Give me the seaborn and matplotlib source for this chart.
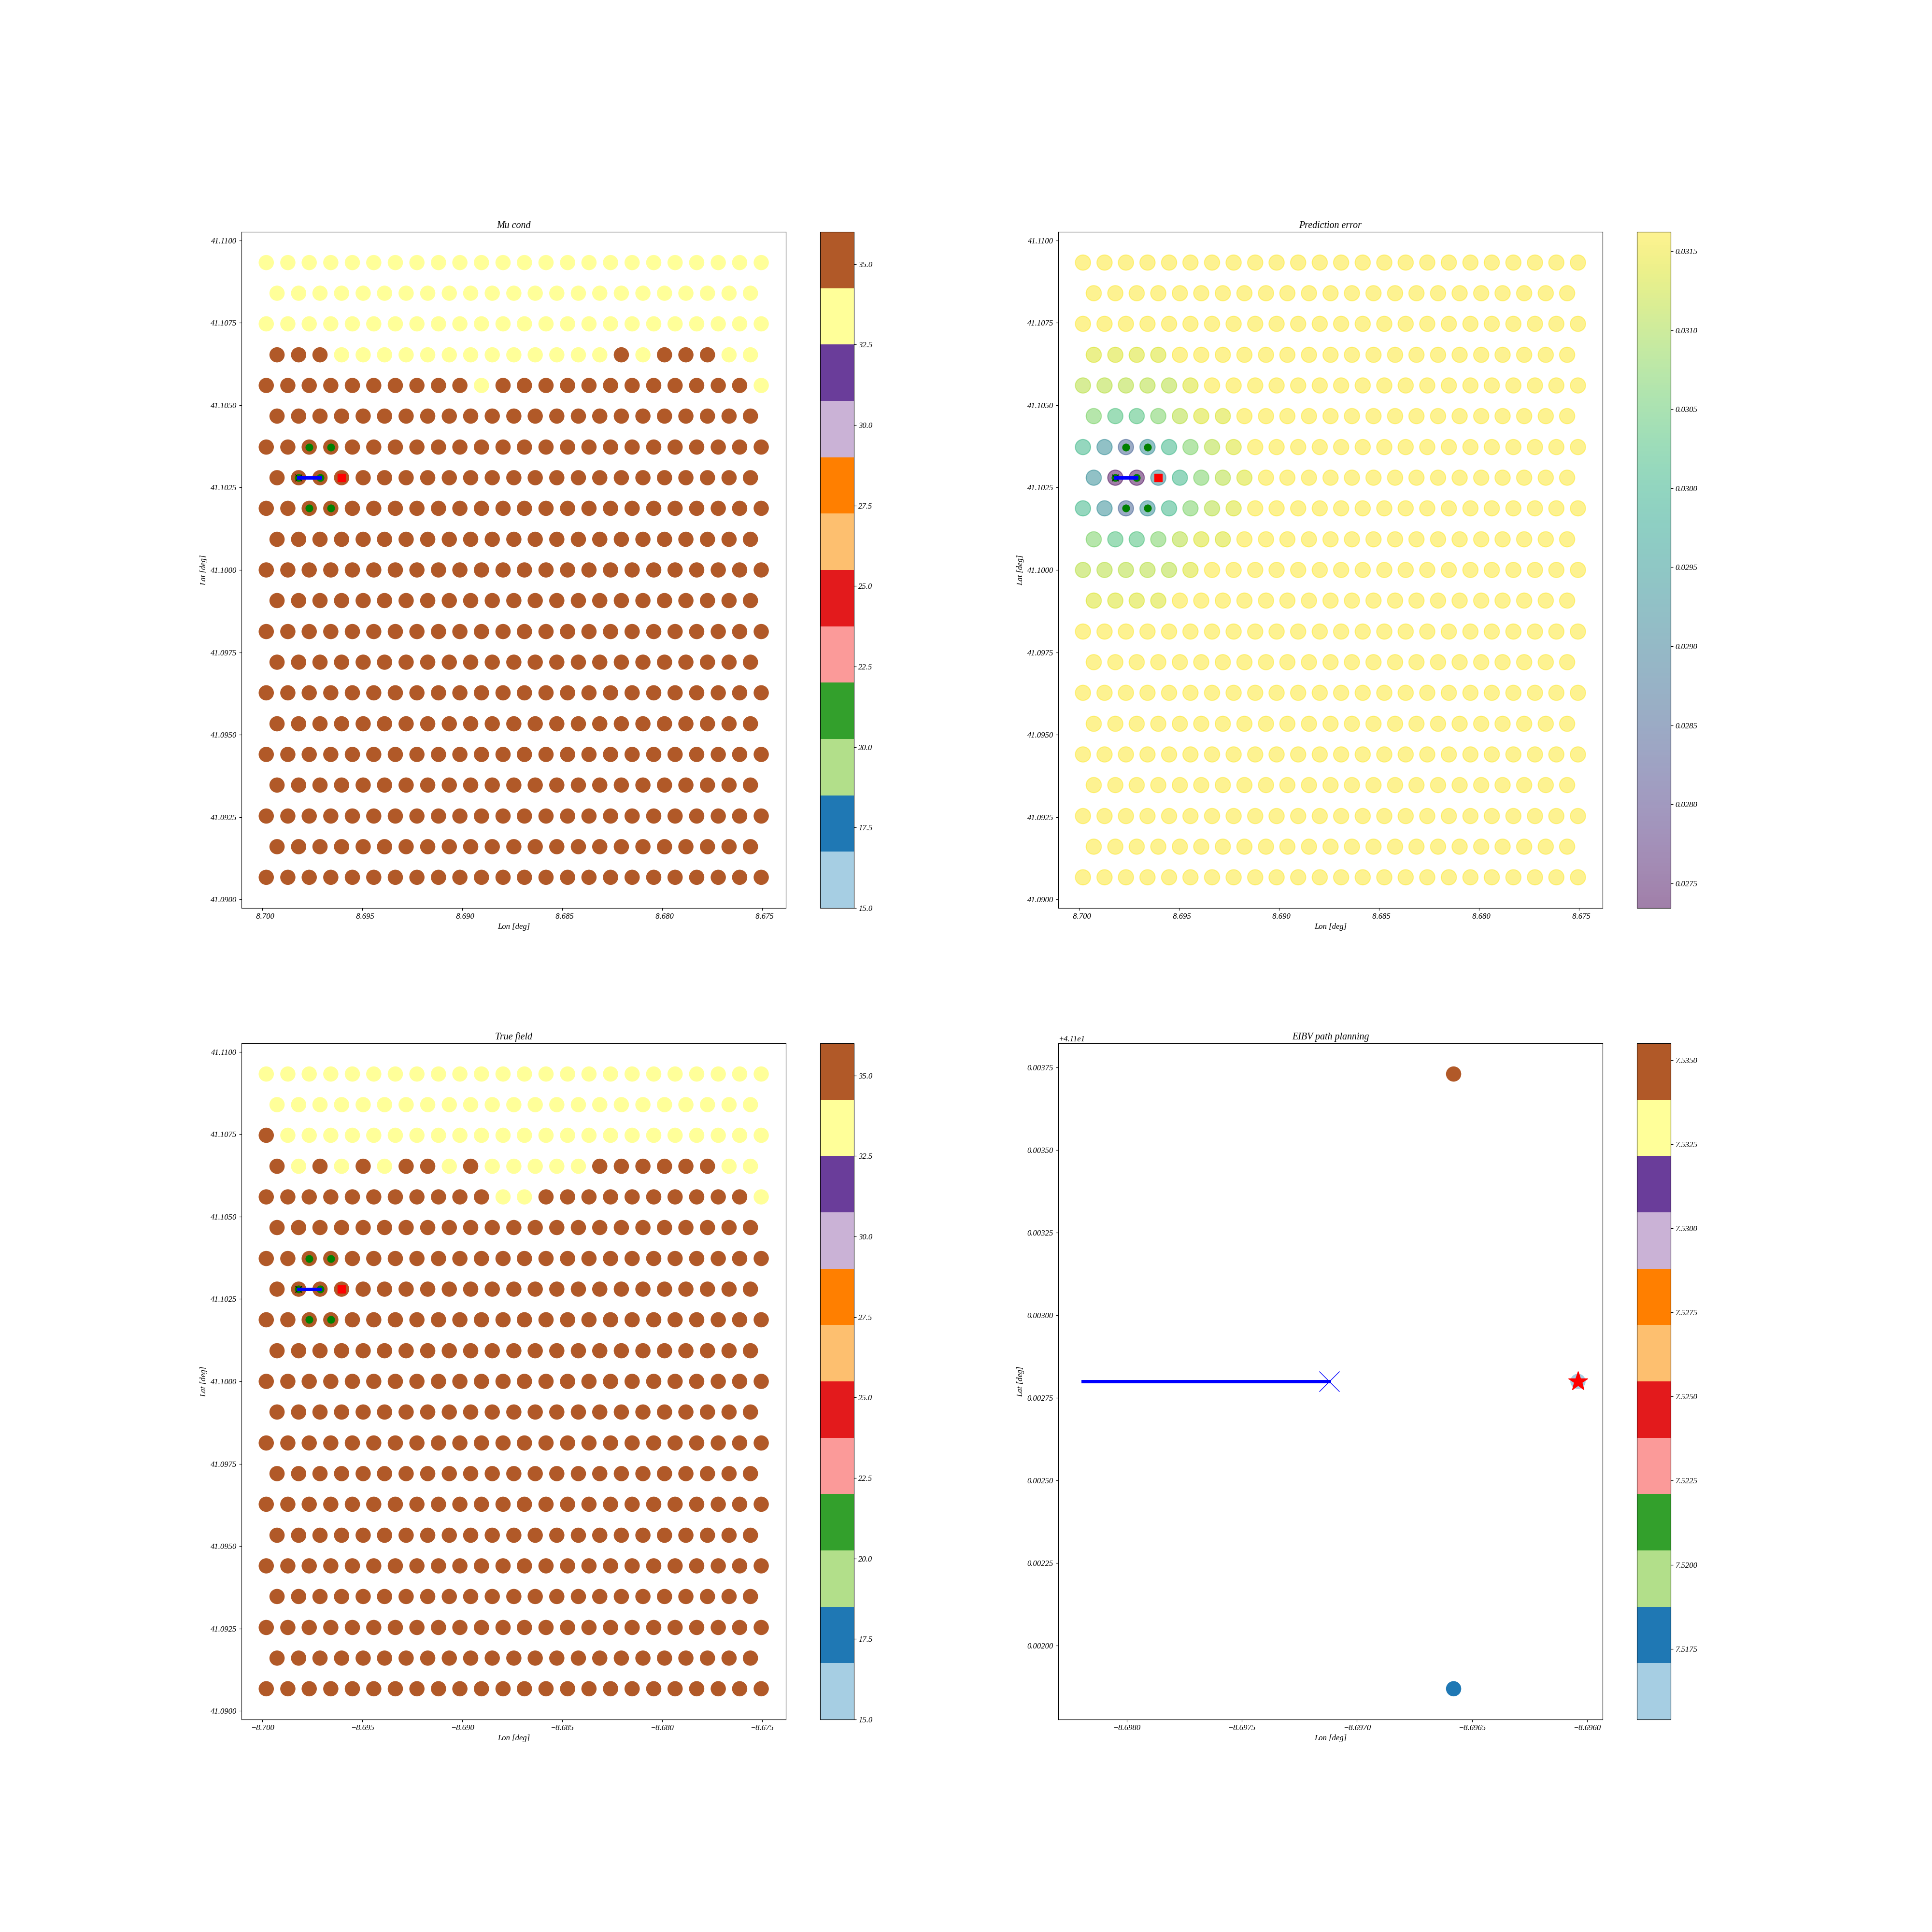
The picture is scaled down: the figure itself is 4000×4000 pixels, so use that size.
import numpy as np
import pandas as pd
import matplotlib
matplotlib.use("Agg")
import matplotlib.pyplot as plt
import seaborn as sns

plt.rcParams["font.family"] = ["serif"]
plt.rcParams["font.serif"] = ["Liberation Serif", "DejaVu Serif"]
plt.rcParams["font.style"] = "italic"
plt.rcParams["font.size"] = 12

# grid coordinates (hexagonal lattice, even rows full, odd rows shifted)
lat_rows = [41.10933, 41.10840, 41.10747, 41.10653, 41.10560, 41.10467, 41.10373,
            41.10280, 41.10187, 41.10093, 41.10000, 41.09907, 41.09813, 41.09720,
            41.09627, 41.09533, 41.09440, 41.09347, 41.09253, 41.09160, 41.09067]
lon_full = [-8.69981, -8.69873, -8.69766, -8.69658, -8.69550, -8.69443, -8.69335, -8.69227,
            -8.69119, -8.69012, -8.68904, -8.68796, -8.68689, -8.68581, -8.68473, -8.68366,
            -8.68258, -8.68150, -8.68042, -8.67935, -8.67827, -8.67719, -8.67612, -8.67504]
lon_offset = [-8.69927, -8.69819, -8.69712, -8.69604, -8.69496, -8.69389, -8.69281, -8.69173,
              -8.69065, -8.68958, -8.68850, -8.68742, -8.68635, -8.68527, -8.68419, -8.68312,
              -8.68204, -8.68096, -8.67988, -8.67881, -8.67773, -8.67665, -8.67558]

# salinity classes: B = high (brown), Y = lower (yellow)
sal_levels = {"B": 35.2, "Y": 33.4}
mu_cond_rows = [
    "YYYYYYYYYYYYYYYYYYYYYYYY",
    "YYYYYYYYYYYYYYYYYYYYYYY",
    "YYYYYYYYYYYYYYYYYYYYYYYY",
    "BBBYYYYYYYYYYYYYBYBBBYY",
    "BBBBBBBBBBYBBBBBBBBBBBBY",
    "BBBBBBBBBBBBBBBBBBBBBBB",
    "BBBBBBBBBBBBBBBBBBBBBBBB",
    "BBBBBBBBBBBBBBBBBBBBBBB",
    "BBBBBBBBBBBBBBBBBBBBBBBB",
    "BBBBBBBBBBBBBBBBBBBBBBB",
    "BBBBBBBBBBBBBBBBBBBBBBBB",
    "BBBBBBBBBBBBBBBBBBBBBBB",
    "BBBBBBBBBBBBBBBBBBBBBBBB",
    "BBBBBBBBBBBBBBBBBBBBBBB",
    "BBBBBBBBBBBBBBBBBBBBBBBB",
    "BBBBBBBBBBBBBBBBBBBBBBB",
    "BBBBBBBBBBBBBBBBBBBBBBBB",
    "BBBBBBBBBBBBBBBBBBBBBBB",
    "BBBBBBBBBBBBBBBBBBBBBBBB",
    "BBBBBBBBBBBBBBBBBBBBBBB",
    "BBBBBBBBBBBBBBBBBBBBBBBB",
]
true_field_rows = [
    "YYYYYYYYYYYYYYYYYYYYYYYY",
    "YYYYYYYYYYYYYYYYYYYYYYY",
    "BYYYYYYYYYYYYYYYYYYYYYYY",
    "BYBYBYBBYBYYYYYBBBBBBYY",
    "BBBBBBBBBBBYYBBBBBBBBBBY",
    "BBBBBBBBBBBBBBBBBBBBBBB",
    "BBBBBBBBBBBBBBBBBBBBBBBB",
    "BBBBBBBBBBBBBBBBBBBBBBB",
    "BBBBBBBBBBBBBBBBBBBBBBBB",
    "BBBBBBBBBBBBBBBBBBBBBBB",
    "BBBBBBBBBBBBBBBBBBBBBBBB",
    "BBBBBBBBBBBBBBBBBBBBBBB",
    "BBBBBBBBBBBBBBBBBBBBBBBB",
    "BBBBBBBBBBBBBBBBBBBBBBB",
    "BBBBBBBBBBBBBBBBBBBBBBBB",
    "BBBBBBBBBBBBBBBBBBBBBBB",
    "BBBBBBBBBBBBBBBBBBBBBBBB",
    "BBBBBBBBBBBBBBBBBBBBBBB",
    "BBBBBBBBBBBBBBBBBBBBBBBB",
    "BBBBBBBBBBBBBBBBBBBBBBB",
    "BBBBBBBBBBBBBBBBBBBBBBBB",
]

# prediction error classes
err_levels = {"Y": 0.031622, "y": 0.03137, "k": 0.03111, "l": 0.03068, "g": 0.03030,
              "t": 0.03008, "b": 0.02927, "u": 0.02850, "p": 0.027344}
pred_err_rows = [
    "YYYYYYYYYYYYYYYYYYYYYYYY",
    "YYYYYYYYYYYYYYYYYYYYYYY",
    "YYYYYYYYYYYYYYYYYYYYYYYY",
    "yyyyYYYYYYYYYYYYYYYYYYY",
    "kkkkkyYYYYYYYYYYYYYYYYYY",
    "lgglkyyYYYYYYYYYYYYYYYY",
    "tbubtlkyYYYYYYYYYYYYYYYY",
    "bppbtlkyYYYYYYYYYYYYYYY",
    "tbubtlkyYYYYYYYYYYYYYYYY",
    "lgglkyyYYYYYYYYYYYYYYYY",
    "kkkkkyYYYYYYYYYYYYYYYYYY",
    "yyyyYYYYYYYYYYYYYYYYYYY",
    "YYYYYYYYYYYYYYYYYYYYYYYY",
    "YYYYYYYYYYYYYYYYYYYYYYY",
    "YYYYYYYYYYYYYYYYYYYYYYYY",
    "YYYYYYYYYYYYYYYYYYYYYYY",
    "YYYYYYYYYYYYYYYYYYYYYYYY",
    "YYYYYYYYYYYYYYYYYYYYYYY",
    "YYYYYYYYYYYYYYYYYYYYYYYY",
    "YYYYYYYYYYYYYYYYYYYYYYY",
    "YYYYYYYYYYYYYYYYYYYYYYYY",
]

# path and candidate locations
path_lon = [-8.69819, -8.69712]
path_lat = [41.10280, 41.10280]
neigh_lon = [-8.69766, -8.69658, -8.69766, -8.69658, -8.69819, -8.69712]
neigh_lat = [41.10373, 41.10373, 41.10187, 41.10187, 41.10280, 41.10280]
next_lon = [-8.69604]
next_lat = [41.10280]

# EIBV candidates
eibv_lon = [-8.69604, -8.69658, -8.69658]
eibv_lat = [41.10280, 41.10373, 41.10187]
eibv_val = [7.5154, 7.5355, 7.5180]


def grid_frame(rows, levels):
    recs = []
    for lat, row in zip(lat_rows, rows):
        lons = lon_full if len(row) == len(lon_full) else lon_offset
        for lon, c in zip(lons, row):
            recs.append((lon, lat, levels[c]))
    return pd.DataFrame(recs, columns=["lon", "lat", "val"])


def field_panel(ax, df, cmap, vmin, vmax, title, alpha=1.0, lw=0):
    norm = plt.Normalize(vmin, vmax)
    sns.scatterplot(data=df, x="lon", y="lat", hue="val", palette=cmap, hue_norm=norm,
                    s=515, alpha=alpha, linewidth=lw, edgecolor="face", legend=False, ax=ax)
    sm = plt.cm.ScalarMappable(norm=norm, cmap=cmap)
    sm.set_array([])
    if alpha < 1:
        fig.colorbar(sm, ax=ax, alpha=alpha)
    else:
        fig.colorbar(sm, ax=ax)
    ax.set_title(title)
    ax.set_xlabel("Lon [deg]")
    ax.set_ylabel("Lat [deg]")


def path_overlay(ax):
    ax.plot(neigh_lon, neigh_lat, "o", color="green", markersize=10.6, linestyle="none")
    ax.plot(path_lon[:1], path_lat[:1], "x", color="black", markersize=10.5, markeredgewidth=1)
    ax.plot(path_lon, path_lat, "-", color="blue", linewidth=5)
    ax.plot(next_lon, next_lat, "s", color="red", markersize=11, linestyle="none")


fig, axes = plt.subplots(2, 2, figsize=(40, 40), dpi=100)
paired = plt.get_cmap("Paired")

mu_df = grid_frame(mu_cond_rows, sal_levels)
field_panel(axes[0, 0], mu_df, paired, 15, 36, "Mu cond")
path_overlay(axes[0, 0])

err_df = grid_frame(pred_err_rows, err_levels)
field_panel(axes[0, 1], err_df, plt.get_cmap("viridis"), err_df["val"].min(),
            err_df["val"].max(), "Prediction error", alpha=0.5, lw=1.5)
path_overlay(axes[0, 1])

true_df = grid_frame(true_field_rows, sal_levels)
field_panel(axes[1, 0], true_df, paired, 15, 36, "True field")
path_overlay(axes[1, 0])

ax = axes[1, 1]
eibv_df = pd.DataFrame({"lon": eibv_lon, "lat": eibv_lat, "val": eibv_val})
field_panel(ax, eibv_df, paired, min(eibv_val), max(eibv_val), "EIBV path planning")
ax.plot(path_lon, path_lat, "-", color="blue", linewidth=5)
ax.plot(path_lon[-1:], path_lat[-1:], "x", color="blue", markersize=30, markeredgewidth=1)
ax.plot(next_lon, next_lat, "*", color="red", markersize=30)

fig.savefig("out.png", dpi=100)
